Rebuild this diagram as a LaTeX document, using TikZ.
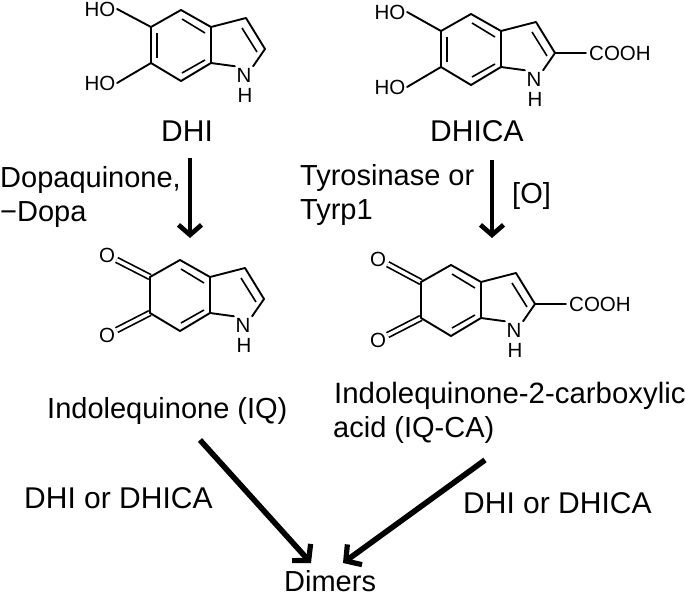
\documentclass[tikz,border=0pt]{standalone}
\usepackage{fontspec}
\setmainfont{Liberation Sans}
\usetikzlibrary{arrows.meta}
\tikzset{
  lbl/.style={anchor=base west,inner sep=0pt,font=\fontsize{29}{29}\selectfont},
  lblb/.style={anchor=base west,inner sep=0pt,font=\fontsize{30}{30}\selectfont},
  atom/.style={inner sep=1.5pt,font=\fontsize{20.5}{20.5}\selectfont},
  bond/.style={line width=1.9pt,line cap=round,line join=round},
  dbond/.style={line width=1.7pt,double,double distance=3.4pt},
  inner/.style={line width=1.6pt},
  rxn/.style={line width=4.7pt,-{Straight Barb[length=10pt,width=23pt,line width=4.7pt]}},
  rxnd/.style={line width=5.6pt,-{Straight Barb[length=11pt,width=25pt,line width=5.2pt]}},
}
\newcommand{\indole}[3]{%
  \begin{scope}[shift={(#2,#3)},name prefix=#1]
    \coordinate (c5) at (0,0);
    \coordinate (c4) at (30,-17);
    \coordinate (c3a) at (60,0);
    \coordinate (c7a) at (60,36);
    \coordinate (c7) at (30,54);
    \coordinate (c6) at (0,36);
    \coordinate (c3) at (95,-9);
    \coordinate (c2) at (114,22);
    \node[atom] (n) at (93,48) {N};
    \node[atom] (h) at (94,68) {H};
    \draw[bond] (c5) -- (c4) -- (c3a) -- (c7a) -- (c7) -- (c6) -- cycle;
    \draw[bond] (c3a) -- (c3) -- (c2) -- (n.north east);
    \draw[bond] (c7a) -- (n.north west);
    \draw[inner] (31,-8) -- (54,6);
    \draw[inner] (31,46) -- (54,33);
    \draw[inner] (91,1) -- (106,25);
  \end{scope}}
\begin{document}
\begin{tikzpicture}[x=1pt,y=-1pt]
\useasboundingbox (0,0) rectangle (685,594);
% DHI
\indole{a}{151}{27}
\draw[inner] (157,33) -- (157,58);
\node[atom] (aho1) at (100,9) {HO};
\node[atom] (aho2) at (100,83) {HO};
\draw[bond] (aho1.east) -- (ac5);
\draw[bond] (aho2.east) -- (ac6);
% DHICA
\indole{b}{441}{31}
\draw[inner] (447,37) -- (447,62);
\node[atom] (bho1) at (390,12) {HO};
\node[atom] (bho2) at (390,87) {HO};
\draw[bond] (bho1.east) -- (bc5);
\draw[bond] (bho2.east) -- (bc6);
\node[atom,anchor=west,inner sep=0pt] (bcooh) at (589,53) {COOH};
\draw[bond] (bc2) -- ([xshift=-3pt]bcooh.west);
% IQ
\node[atom] (co1) at (107,255) {O};
\node[atom] (co2) at (107,335) {O};
\draw[dbond] (co1) -- (150,277);
\draw[dbond] (co2) -- (150,313);
\indole{c}{150}{277}
% IQ-CA
\node[atom] (do1) at (378,259) {O};
\node[atom] (do2) at (378,340) {O};
\draw[dbond] (do1) -- (421,282);
\draw[dbond] (do2) -- (421,318);
\indole{d}{421}{282}
\node[atom,anchor=west,inner sep=0pt] (dcooh) at (569,304) {COOH};
\draw[bond] (dc2) -- ([xshift=-3pt]dcooh.west);
% labels
\node[lblb] (ldhi) at (161,141) {DHI};
\node[lblb] (ldhica) at (430,141) {DHICA};
\node[lbl] (ldopa1) at (0,187) {Dopaquinone,};
\node[lbl] (ldopa2) at (0,221) {−Dopa};
\node[lbl] (ltyr1) at (300,185) {Tyrosinase or};
\node[lbl] (ltyr2) at (300,219) {Tyrp1};
\node[lbl] (lo) at (512,203) {[O]};
\node[lbl] (liq) at (47,418) {Indolequinone (IQ)};
\node[lbl,font=\fontsize{29.4}{29.4}\selectfont] (liqca1) at (334,403) {Indolequinone-2-carboxylic};
\node[lbl] (liqca2) at (333,437) {acid (IQ-CA)};
\node[lblb] (ldd1) at (24,508) {DHI or DHICA};
\node[lblb] (ldd2) at (463,513) {DHI or DHICA};
\node[lbl] (ldimers) at (284,591) {Dimers};
% arrows
\coordinate (s1) at (190,158); \coordinate (t1) at (190,238);
\coordinate (s2) at (492,160); \coordinate (t2) at (492,238);
\coordinate (s3) at (200,440); \coordinate (t3) at (311,563);
\coordinate (s4) at (485,460); \coordinate (t4) at (343,563);
\draw[rxn] (s1) -- (t1);
\draw[rxn] (s2) -- (t2);
\draw[rxnd] (s3) -- (t3);
\draw[rxnd] (s4) -- (t4);
\end{tikzpicture}
\end{document}
